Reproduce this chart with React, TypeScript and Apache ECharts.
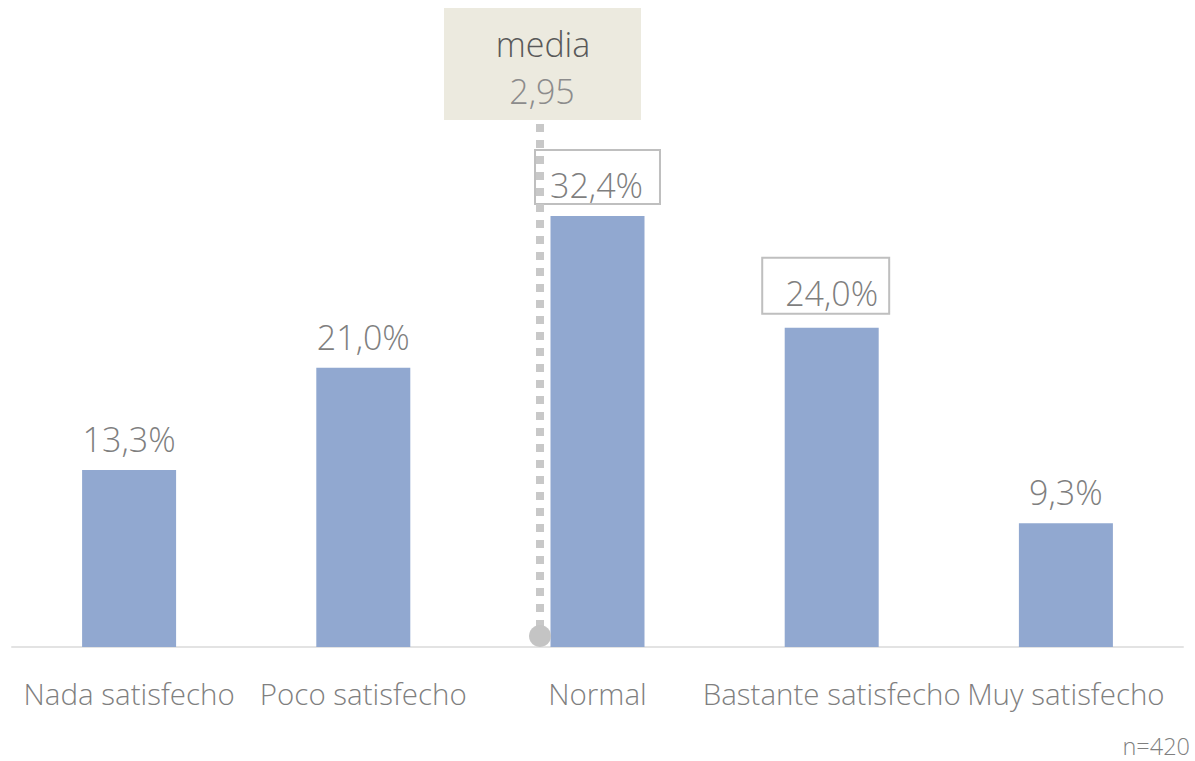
import React, { useEffect, useRef } from "react";
import * as echarts from "echarts";

const categories = ["Nada satisfecho", "Poco satisfecho", "Normal", "Bastante satisfecho", "Muy satisfecho"];
const values = [13.3, 21.0, 32.4, 24.0, 9.3];
const boxed = [false, false, true, true, false];
const meanLabel = "media";
const meanValue = "2,95";
const sampleNote = "n=420";

const FONT = "'Open Sans', 'Noto Sans', sans-serif";

const boxLabelStyle: Record<number, any> = {
  2: { padding: [17, 16, 1, 14], distance: 13, offset: [0, 0] },
  3: { padding: [17, 10, 3, 22], distance: 15, offset: [-6, 0] },
};

export default function App() {
  const ref = useRef<HTMLDivElement>(null);
  useEffect(() => {
    if (!ref.current) return;
    const chart = echarts.init(ref.current, null, { renderer: "svg" });
    const fmt = (v: number) => v.toFixed(1).replace(".", ",") + "%";
    chart.setOption({
      animation: false,
      grid: { left: 12, right: 12, top: 115, bottom: 114, containLabel: false },
      xAxis: {
        type: "category",
        data: categories,
        axisLine: { lineStyle: { color: "#e3e3e3", width: 2 } },
        axisTick: { show: false },
        axisLabel: {
          color: "#7f7f7f",
          fontSize: 29.5,
          fontFamily: FONT,
          fontWeight: 300,
          margin: 31,
          interval: 0,
        },
      },
      yAxis: {
        type: "value",
        min: 0,
        max: 40,
        show: false,
        splitLine: { show: false },
      },
      series: [
        {
          type: "bar",
          barWidth: 94,
          itemStyle: { color: "#91a8d0" },
          data: values.map((v, i) => ({
            value: v,
            label: boxed[i]
              ? {
                  borderColor: "#bfbfbf",
                  borderWidth: 2,
                  backgroundColor: "#ffffff",
                  ...(boxLabelStyle[i] || { padding: [17, 14, 2, 14], distance: 13 }),
                }
              : { padding: [6, 14, 4, 14], distance: 10 },
          })),
          label: {
            show: true,
            position: "top",
            color: "#7f7f7f",
            fontSize: 34,
            fontFamily: FONT,
            fontWeight: 300,
            formatter: (p: any) => fmt(p.value),
          },
        },
      ],
      graphic: [
        {
          type: "rect",
          shape: { x: 444, y: 8, width: 197, height: 112 },
          style: { fill: "#eceadf" },
          z: 10,
        },
        {
          type: "text",
          x: 543,
          y: 44,
          style: {
            text: meanLabel,
            fill: "#595959",
            fontSize: 34,
            fontFamily: FONT,
            fontWeight: 300,
            textAlign: "center",
            textVerticalAlign: "middle",
          },
          z: 11,
        },
        {
          type: "text",
          x: 542,
          y: 91,
          style: {
            text: meanValue,
            fill: "#8c8c8c",
            fontSize: 34,
            fontFamily: FONT,
            fontWeight: 300,
            textAlign: "center",
            textVerticalAlign: "middle",
          },
          z: 11,
        },
        {
          type: "line",
          shape: { x1: 540, y1: 124, x2: 540, y2: 630 },
          style: { stroke: "#c8c8c8", lineWidth: 8, lineDash: [8, 8] },
          z: 20,
        },
        {
          type: "circle",
          shape: { cx: 540, cy: 636, r: 11 },
          style: { fill: "#c4c4c4" },
          z: 20,
        },
        {
          type: "text",
          right: 5,
          top: 734,
          style: {
            text: sampleNote,
            fill: "#7f7f7f",
            fontSize: 23.5,
            fontFamily: FONT,
            fontWeight: 300,
          },
        },
      ],
    });
    return () => chart.dispose();
  }, []);
  return (
    <div
      ref={ref}
      style={{ position: "fixed", left: 0, top: 0, width: 1195, height: 761, background: "#ffffff" }}
    />
  );
}
